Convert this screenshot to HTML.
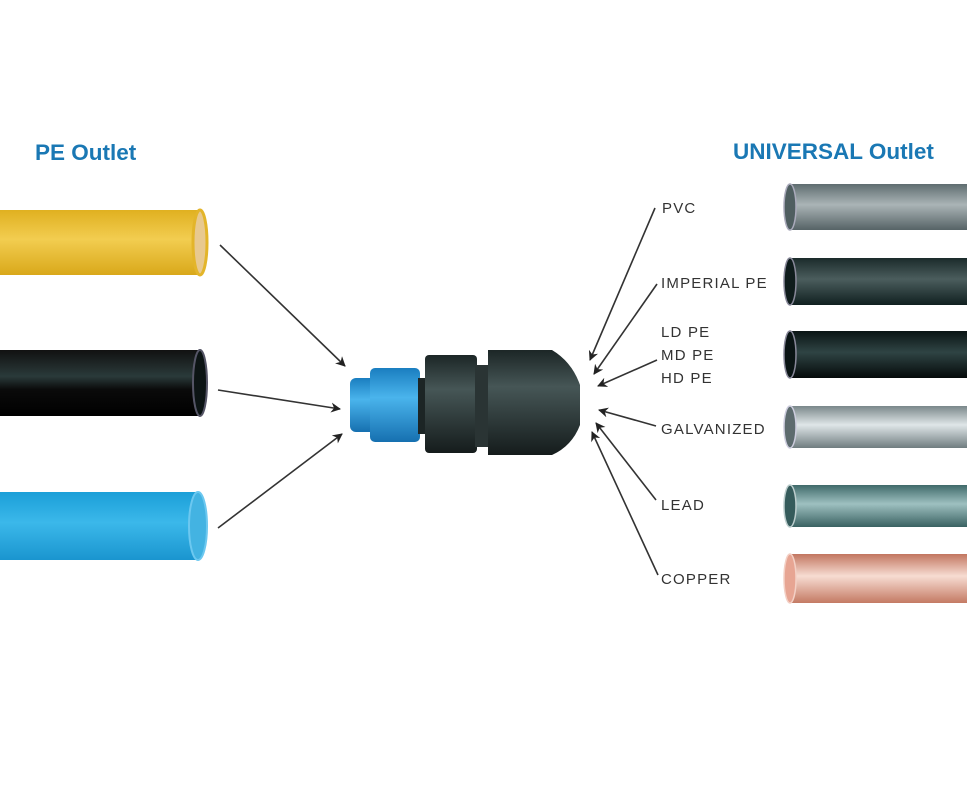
<!DOCTYPE html>
<html><head><style>
html,body{margin:0;padding:0;background:#fff;}
svg{display:block}
.t{font-family:"Liberation Sans",sans-serif;font-size:15px;fill:#333;letter-spacing:1.2px}
.h{font-family:"Liberation Sans",sans-serif;font-size:22.5px;font-weight:bold;fill:#1a78b4}
</style></head><body>
<svg width="967" height="800" viewBox="0 0 967 800" xmlns="http://www.w3.org/2000/svg">
<defs>
<marker id="a" markerWidth="10" markerHeight="10" refX="9" refY="5" orient="auto" markerUnits="userSpaceOnUse" viewBox="0 0 10 10"><path d="M0,0 L10,5 L0,10 L3,5z" fill="#222"/></marker>
<linearGradient id="gy" x1="0" y1="0" x2="0" y2="1"><stop offset="0" stop-color="#e0b020"/><stop offset=".45" stop-color="#f2cd50"/><stop offset="1" stop-color="#d9a81a"/></linearGradient>
<linearGradient id="gk" x1="0" y1="0" x2="0" y2="1"><stop offset="0" stop-color="#111"/><stop offset=".4" stop-color="#2a3a3a"/><stop offset=".6" stop-color="#0a0a0a"/><stop offset="1" stop-color="#000"/></linearGradient>
<linearGradient id="gb" x1="0" y1="0" x2="0" y2="1"><stop offset="0" stop-color="#1b9fd8"/><stop offset=".45" stop-color="#3bb8ea"/><stop offset="1" stop-color="#1a95cf"/></linearGradient>
<linearGradient id="g1" x1="0" y1="0" x2="0" y2="1"><stop offset="0" stop-color="#5f6d70"/><stop offset=".45" stop-color="#aab4b6"/><stop offset="1" stop-color="#566366"/></linearGradient>
<linearGradient id="g2" x1="0" y1="0" x2="0" y2="1"><stop offset="0" stop-color="#1b2b2b"/><stop offset=".45" stop-color="#4b5d5d"/><stop offset="1" stop-color="#102020"/></linearGradient>
<linearGradient id="g3" x1="0" y1="0" x2="0" y2="1"><stop offset="0" stop-color="#0a1414"/><stop offset=".45" stop-color="#2f4444"/><stop offset="1" stop-color="#050a0a"/></linearGradient>
<linearGradient id="g4" x1="0" y1="0" x2="0" y2="1"><stop offset="0" stop-color="#7a878a"/><stop offset=".45" stop-color="#dfe6e8"/><stop offset="1" stop-color="#707d80"/></linearGradient>
<linearGradient id="g5" x1="0" y1="0" x2="0" y2="1"><stop offset="0" stop-color="#3f6a6a"/><stop offset=".45" stop-color="#9ec0c0"/><stop offset="1" stop-color="#3a6262"/></linearGradient>
<linearGradient id="g6" x1="0" y1="0" x2="0" y2="1"><stop offset="0" stop-color="#c27660"/><stop offset=".45" stop-color="#f7dcd2"/><stop offset="1" stop-color="#c47a64"/></linearGradient>
<linearGradient id="gf" x1="0" y1="0" x2="0" y2="1"><stop offset="0" stop-color="#1c2626"/><stop offset=".35" stop-color="#465656"/><stop offset="1" stop-color="#151c1c"/></linearGradient>
<linearGradient id="gc" x1="0" y1="0" x2="0" y2="1"><stop offset="0" stop-color="#1a7ec0"/><stop offset=".4" stop-color="#4ab4ec"/><stop offset="1" stop-color="#1670b0"/></linearGradient>
</defs>
<text class="h" x="35" y="160">PE Outlet</text>
<text class="h" x="733" y="159">UNIVERSAL Outlet</text>

<rect x="0" y="210" width="200" height="65" fill="url(#gy)"/><ellipse cx="200" cy="242.5" rx="7" ry="32.5" fill="#e8c98f" stroke="#e3b52a" stroke-width="3"/>
<rect x="0" y="350" width="200" height="66" fill="url(#gk)"/><ellipse cx="200" cy="383" rx="7" ry="33" fill="#0c1414" stroke="#556" stroke-width="2"/>
<rect x="0" y="492" width="198" height="68" fill="url(#gb)"/><ellipse cx="198" cy="526" rx="9" ry="34" fill="#43b3e2" stroke="#6cc8f0" stroke-width="2"/>

<g>
<rect x="790" y="184" width="177" height="46" fill="url(#g1)"/><ellipse cx="790" cy="207" rx="6" ry="23" fill="#4f5e60" stroke="#aab" stroke-width="1.5"/>
<rect x="790" y="258" width="177" height="47" fill="url(#g2)"/><ellipse cx="790" cy="281.5" rx="6" ry="23.5" fill="#0f1c1c" stroke="#889" stroke-width="1.5"/>
<rect x="790" y="331" width="177" height="47" fill="url(#g3)"/><ellipse cx="790" cy="354.5" rx="6" ry="23.5" fill="#0a1414" stroke="#889" stroke-width="1.5"/>
<rect x="790" y="406" width="177" height="42" fill="url(#g4)"/><ellipse cx="790" cy="427" rx="6" ry="21" fill="#5d6b6e" stroke="#ccd" stroke-width="1.5"/>
<rect x="790" y="485" width="177" height="42" fill="url(#g5)"/><ellipse cx="790" cy="506" rx="6" ry="21" fill="#355b5b" stroke="#bcc" stroke-width="1.5"/>
<rect x="790" y="554" width="177" height="49" fill="url(#g6)"/><ellipse cx="790" cy="578.5" rx="6" ry="24.5" fill="#e7a593" stroke="#f3d0c5" stroke-width="1.5"/>
</g>

<rect x="350" y="378" width="30" height="54" rx="6" fill="url(#gc)"/>
<rect x="370" y="368" width="50" height="74" rx="5" fill="url(#gc)"/>
<rect x="418" y="378" width="8" height="56" fill="#1c2525"/>
<rect x="425" y="355" width="52" height="98" rx="4" fill="url(#gf)"/>
<rect x="475" y="365" width="15" height="82" fill="#2a3434"/>
<path d="M488,350 L552,350 Q572,362 580,385 L580,425 Q572,446 552,455 L488,455 Z" fill="url(#gf)"/>

<g stroke="#333" stroke-width="1.6" fill="none" marker-end="url(#a)">
<line x1="220" y1="245" x2="345" y2="366"/>
<line x1="218" y1="390" x2="340" y2="409"/>
<line x1="218" y1="528" x2="342" y2="434"/>
<line x1="655" y1="208" x2="590" y2="360"/>
<line x1="657" y1="284" x2="594" y2="374"/>
<line x1="657" y1="360" x2="598" y2="386"/>
<line x1="656" y1="426" x2="599" y2="410"/>
<line x1="656" y1="500" x2="596" y2="423"/>
<line x1="658" y1="575" x2="592" y2="432"/>
</g>

<text class="t" x="662" y="213">PVC</text>
<text class="t" x="661" y="288">IMPERIAL PE</text>
<text class="t" x="661" y="337">LD PE</text>
<text class="t" x="661" y="360">MD PE</text>
<text class="t" x="661" y="383">HD PE</text>
<text class="t" x="661" y="434">GALVANIZED</text>
<text class="t" x="661" y="510">LEAD</text>
<text class="t" x="661" y="584">COPPER</text>
</svg>
</body></html>
